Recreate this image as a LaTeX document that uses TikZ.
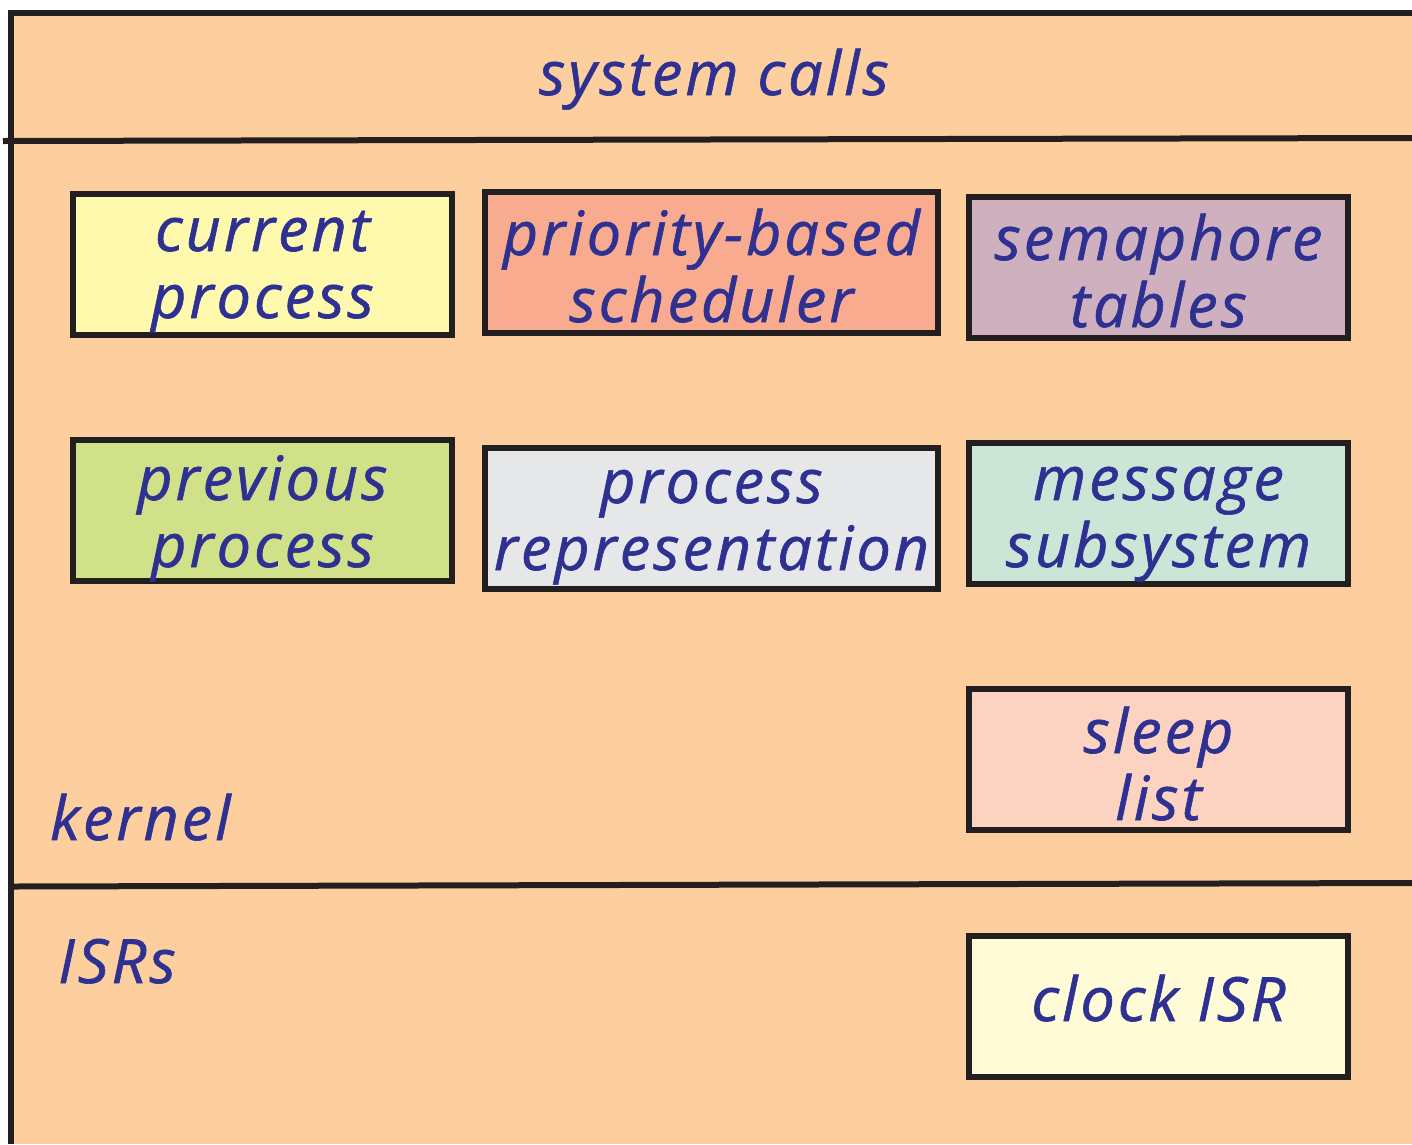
\documentclass[tikz,border=0pt]{standalone}
\usepackage{fontspec}
\setmainfont{Open Sans}[ItalicFont={Open Sans Italic}]
\newfontfamily\labfont{Open Sans Italic}[LetterSpace=5,FakeBold=1]
\definecolor{bgc}{HTML}{FDCF9E}
\definecolor{txc}{HTML}{2E3192}
\definecolor{lnc}{HTML}{231F20}
\definecolor{ccur}{HTML}{FFF9AE}
\definecolor{csch}{HTML}{F9AB8F}
\definecolor{csem}{HTML}{CFB0BE}
\definecolor{cprev}{HTML}{D1E189}
\definecolor{crep}{HTML}{E6E7E8}
\definecolor{cmsg}{HTML}{CBE6D6}
\definecolor{cslp}{HTML}{FCD3C1}
\definecolor{cclk}{HTML}{FFFBD6}
\tikzset{
  lab/.style={text=txc, font=\labfont\fontsize{61}{67}\selectfont, inner sep=0pt},
  box/.style={draw=lnc, line width=6pt, minimum width=379pt, minimum height=141pt,
    inner sep=0pt, align=center, text=txc, text depth=0pt,
    font=\labfont\fontsize{61}{67}\selectfont},
  wide/.style={box, minimum width=453pt},
  sep/.style={draw=lnc, line width=6pt}
}
\begin{document}
\begin{tikzpicture}[x=1pt,y=-1pt]
\useasboundingbox (0,0) rectangle (1412,1144);
\fill[white] (0,0) rectangle (1412,1144);
\fill[bgc] (11,13) rectangle (1412,1144);
\draw[sep] (8,13) -- (1412,13);
\draw[sep] (11,10) -- (11,1144);
\coordinate (s1a) at (3,141);
\coordinate (s1b) at (1412,138);
\coordinate (s2a) at (11,886.5);
\coordinate (s2b) at (1412,883);
\draw[sep] (s1a) -- (s1b);
\draw[sep] (s2a) -- (s2b);

\node[lab, anchor=base] (sys) at (714,95) {system calls};
\node[lab, anchor=base west] (kern) at (50,840) {kernel};
\node[lab, anchor=base west] (isr) at (58,983) {ISRs};

\node[box, fill=ccur, text height=108pt] (cur) at (262.5,264) {current\\process};
\node[wide, fill=csch, text height=119pt] (sch) at (711.5,262.5) {priority-based\\scheduler};
\node[box, fill=csem, text height=119pt] (sem) at (1158.5,267.5) {semaphore\\tables};
\node[box, fill=cprev, text height=113pt] (prev) at (262.5,510.5) {previous\\process};
\node[wide, fill=crep, text height=104pt] (rep) at (711.5,518) {process\\representation};
\node[box, fill=cmsg, text height=107pt] (msg) at (1158.5,513.5) {message\\subsystem};
\node[box, fill=cslp, text height=121pt] (slp) at (1158.5,759.5) {sleep\\list};
\node[box, fill=cclk, text height=30pt] (clk) at (1158.5,1006) {clock ISR};
\end{tikzpicture}
\end{document}
